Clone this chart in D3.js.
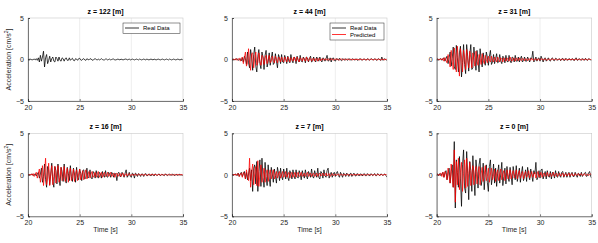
<!DOCTYPE html>
<html>
<head>
<meta charset="utf-8">
<script src="https://cdn.jsdelivr.net/npm/d3@7"></script>
<style>
  body { margin: 0; background: #fff; }
  svg { font-family: "Liberation Sans", Arial, sans-serif; }
</style>
</head>
<body>
<div id="chart"></div>
<script>
// time axis: 20 s to 35 s, 0.1 s step
const time = d3.range(151).map(i => 20 + i / 10);

const panelTitles = ["z = 122 [m]", "z = 44 [m]", "z = 31 [m]", "z = 16 [m]", "z = 7 [m]", "z = 0 [m]"];
const xTicks = [20, 25, 30, 35];
const yTicks = [-5, 0, 5];

// real data (black), one array per depth
const real122 = [
  0, 0, 0.05, 0, -0.05, 0, 0.05, -0.05, 0.1, -0.1,
  0.2, -0.3, 0.5, -0.2, 0.3, 1.0, -0.9, 0.2, 0.6, -0.5,
  -0.1, 0.4, -0.3, 0.1, 0.3, -0.2, -0.3, 0.3, 0.1, -0.2,
  0.3, -0.1, -0.2, 0.2, 0.1, -0.2, 0.1, 0.2, -0.1, -0.1,
  0.2, -0.1, 0.05, 0.15, -0.1, -0.15, 0.1, 0.05, -0.1, 0.1,
  0.15, -0.05, -0.1, 0.05, 0.1, -0.05, -0.1, 0.1, 0, -0.05,
  0.1, 0.05, -0.05, -0.1, 0.05, 0.1, 0, -0.05, 0.05, -0.05,
  0, 0.1, 0, -0.05, -0.05, 0.05, 0.05, -0.05, 0, 0.05,
  -0.05, 0, 0.05, 0.05, -0.05, -0.05, 0, 0.05, 0, -0.05,
  0.05, 0, -0.05, 0, 0.05, 0.05, -0.05, 0, 0.05, -0.05,
  0, 0.05, 0, -0.05, 0, 0.05, 0, -0.05, 0.05, 0,
  -0.05, 0, 0.05, 0, -0.05, 0.05, 0, -0.05, 0, 0.05,
  0, -0.05, 0.05, 0, -0.05, 0, 0.05, 0, -0.05, 0,
  0.05, 0, -0.05, 0, 0.05, 0, -0.05, 0.05, 0, -0.05,
  0, 0.05, 0, -0.05, 0, 0.05, 0, -0.05, 0, 0.05,
  -0.1
];
const real44 = [
  0, 0.05, 0, -0.05, 0.05, 0.1, -0.1, 0, 0.1, -0.15,
  0.2, -0.3, 0.4, 0.1, -0.6, 0.9, -0.4, -1.0, 1.2, 0.3,
  -1.3, 0.6, 1.5, -0.8, -1.5, 0.4, 1.2, -0.5, -1.1, 0.9,
  0.3, -1.2, 0.5, 1.1, -0.9, -0.3, 0.8, -0.7, 0.2, 0.9,
  -0.6, -0.4, 0.7, -0.2, -1.0, 0.6, 0.2, -0.5, 0.6, -0.3,
  -0.4, 0.5, 0.1, -0.5, 0.4, -0.2, -0.4, 0.6, -0.1, -0.4,
  0.3, 0.2, -0.5, 0.4, -0.1, -0.3, 0.5, -0.2, -0.3, 0.3,
  0.1, -0.4, 0.3, 0.2, -0.3, 0.1, 0.4, -0.3, -0.2, 0.3,
  -0.1, -0.3, 0.3, 0, -0.2, 0.3, -0.1, -0.3, 0.2, 0.1,
  -0.2, 0.1, 0.5, -0.2, -0.1, 0.2, -0.3, 0.1, 0.2, -0.1,
  -0.2, 0.1, 0.05, -0.1, 0.15, -0.05, -0.15, 0.1, 0.05, -0.1,
  0.1, 0, -0.1, 0.1, 0.05, -0.1, 0, 0.1, -0.05, -0.05,
  0.1, -0.05, -0.1, 0.05, 0.1, 0, -0.1, 0.05, 0.05, -0.05,
  -0.05, 0.1, 0, -0.1, 0.05, 0.1, -0.05, -0.05, 0.1, 0,
  -0.1, 0.05, 0.1, -0.05, -0.1, 0.3, -0.1, 0, 0.1, -0.05,
  -0.1
];
const real31 = [
  0, 0.05, -0.05, 0.05, 0.1, -0.1, 0.1, 0.2, -0.2, 0.1,
  0.4, -0.5, 0.2, 0.9, -0.8, 0.1, 1.5, -0.9, -1.2, 1.7,
  0.2, -1.5, 0.8, 1.6, -2.1, -0.4, 1.8, -0.6, -1.7, 1.8,
  0.4, -1.4, 0.6, 1.8, -1.2, -1.0, 1.5, 0.2, -1.3, 1.1,
  -0.2, -1.5, 1.3, 0.1, -0.9, 0.8, -0.2, -0.7, 0.9, 0.3,
  -0.7, 0.4, 1.1, -0.6, -0.3, 0.6, -0.5, 0.1, 0.7, -0.4,
  -0.3, 0.6, -0.2, -0.5, 0.4, 0.2, -0.4, 0.5, -0.2, -0.3,
  0.5, -0.1, -0.4, 0.3, 0.2, -0.3, 0.5, -0.2, -0.2, 0.3,
  -0.3, 0.1, 0.4, -0.3, -0.1, 0.3, -0.2, -0.2, 0.3, 0,
  -0.3, 0.2, 0.1, 1.0, -0.3, -0.1, 0.3, -0.2, 0.1, 0.2,
  -0.2, 0.4, 0.1, -0.3, 0.1, 0.2, -0.2, 0, 0.2, -0.1,
  -0.2, 0.1, 0.2, -0.1, -0.15, 0.15, 0.1, -0.1, 0, 0.1,
  -0.15, 0.05, 0.15, -0.1, -0.1, 0.15, 0, -0.1, 0.1, 0.05,
  -0.1, 0.1, 0.05, -0.15, 0.1, 0.2, -0.1, -0.05, 0.1, 0,
  -0.1, 0.1, 0.05, -0.1, 0.15, -0.05, -0.1, 0.1, 0.05, -0.05,
  -0.1
];
const real16 = [
  0, 0.05, -0.05, 0.05, 0.1, -0.1, 0.05, 0.1, -0.15, 0.1,
  0.3, -0.4, 0.1, 0.8, -0.9, -0.2, 1.3, -0.6, -1.5, 1.0,
  0.6, -1.2, 0.1, 1.4, -0.8, -1.5, 1.0, 0.5, -1.1, 1.3,
  -0.3, -1.3, 0.9, 0.4, -0.8, 1.3, -0.5, -1.0, 0.9, 0.2,
  -0.7, 1.1, -0.2, -0.8, 0.8, 0.1, -0.9, 0.9, -0.3, -0.6,
  0.7, 0.2, -0.7, 0.5, 0.6, -0.5, -0.3, 0.8, -0.4, -0.2,
  0.6, -0.3, -0.5, 0.4, 0.2, -0.4, 0.5, -0.1, -0.4, 0.3,
  0.1, -0.4, 0.4, -0.1, -0.3, 0.5, -0.2, -0.3, 0.3, 0.1,
  -0.3, 0.3, 0.1, -0.3, 0.2, 0.1, -0.7, 0.2, 0.3, -0.2,
  -0.2, 0.3, 0, -0.3, 0.2, 0.6, -0.3, -0.1, 0.3, -0.2,
  -0.3, 0.2, 0.1, -0.4, 0.2, 0.1, -0.2, 0.15, 0.05, -0.2,
  0.1, 0.1, -0.2, 0.05, 0.15, -0.1, -0.1, 0.1, 0.05, -0.15,
  0.1, 0.05, -0.15, 0.1, 0.05, -0.1, 0.05, 0.1, -0.1, -0.05,
  0.1, -0.05, -0.1, 0.1, 0.05, -0.1, 0, 0.1, -0.05, -0.05,
  0.1, 0, -0.1, 0.05, 0.05, -0.1, 0.05, 0.05, -0.05, 0,
  -0.1
];
const real7 = [
  0, 0.05, -0.05, 0.1, 0.05, -0.1, 0.2, -0.2, 0.1, 0.3,
  -0.2, 0.1, 0.4, -0.5, 0.3, -0.6, 0.1, 0.8, -0.7, 0.6,
  -2.0, 0.8, 1.2, -1.1, 1.6, -2.0, 0.4, 1.8, -1.4, 2.0,
  -0.3, -1.5, 1.5, -0.2, -1.3, 1.2, -0.4, -1.4, 0.9, 0.1,
  -0.9, 0.7, -0.1, -1.0, 0.9, 0.2, -0.7, 0.8, -0.2, -0.6,
  0.7, 0.1, -0.5, 0.8, -0.3, -0.7, 0.5, 0.1, -0.5, 0.6,
  -0.1, -0.5, 0.6, -0.2, -0.4, 0.5, 0.1, -0.6, 0.5, 0,
  -0.4, 0.6, -0.1, -0.5, 0.4, 0.1, -0.3, 0.7, -0.2, -0.4,
  0.5, 0, -0.3, 0.8, -0.3, -0.5, 0.4, 0.2, -0.4, 0.6,
  -0.1, -0.3, 0.5, 0.8, -0.4, 0, 0.3, -0.3, 0.1, 0.3,
  -0.2, 0.2, 0.4, -0.1, -0.3, 0.3, 0, -0.3, 0.2, 0.1,
  -0.2, 0.2, 0.05, -0.2, 0.1, 0.2, -0.2, 0, 0.2, -0.1,
  -0.15, 0.15, 0.05, -0.15, 0.1, 0.1, -0.15, 0.05, 0.15, -0.1,
  -0.1, 0.15, 0, -0.15, 0.1, 0.1, -0.1, 0, 0.15, -0.1,
  -0.1, 0.15, 0, -0.1, 0.1, 0.05, -0.1, 0.05, 0.1, -0.1,
  -0.3
];
const real0 = [
  0, 0.1, -0.1, 0.15, -0.1, 0.1, 0.3, -0.3, 0.2, 0.5,
  -0.6, 0.2, 0.8, -1.0, 0.4, 1.2, -1.5, 4.0, -4.0, 1.8,
  0.3, -1.5, 2.2, -0.5, -3.8, 1.2, 3.0, -1.6, -2.2, 2.8,
  0.2, -3.0, 1.6, 0.5, -2.0, 2.3, -0.3, -2.5, 1.8, 0.4,
  -1.6, 1.2, 2.0, -1.3, -0.6, 1.4, -1.8, 0.3, 1.2, -0.9,
  -2.0, 1.0, 1.8, -1.2, -0.2, 1.3, -1.0, 0.8, -1.4, 0.2,
  1.2, -1.0, 0.1, 1.5, -1.3, -0.2, 0.8, -1.1, 1.0, -0.2,
  -0.8, 0.9, -0.1, -1.2, 1.0, 0.1, -0.6, 1.1, -0.8, 0,
  0.8, -0.9, 0.2, 1.0, -0.7, -0.2, 0.6, -0.8, 0.9, -0.1,
  -0.6, 0.7, 0, -0.8, 0.5, 0.1, 1.5, -0.6, -0.3, 0.5,
  -0.4, 0.6, 0.7, -0.5, 0, 0.4, -0.5, 0.5, -0.1, -0.3,
  0.4, -0.5, 0.3, 0.1, -0.4, 0.5, -0.2, -0.3, 0.4, -0.1,
  -0.3, 0.3, 0.4, -0.3, 0, 0.3, -0.3, 0.1, 0.3, -0.3,
  0.1, 0.3, -0.2, -0.2, 0.3, 0, -0.3, 0.2, 0.1, -0.2,
  0.3, -0.2, 0, 0.2, 0.3, -0.2, -0.1, 0.2, 0.4, -0.2,
  -0.4
];

// predicted (red), none for z = 122
const pred44 = [
  0, 0.05, -0.05, 0.05, 0.1, -0.1, 0.05, 0.15, -0.2, 0.1,
  0.3, -0.5, 0.2, 0.9, -0.8, -0.4, 1.3, -0.3, -1.3, 0.7,
  0.8, -1.0, 0.2, 0.9, -0.7, -0.4, 0.8, -0.2, -0.7, 0.5,
  0.3, -0.6, 0.2, 0.5, -0.5, 0, 0.5, -0.4, -0.2, 0.4,
  -0.1, -0.4, 0.4, 0.1, -0.4, 0.3, 0.1, -0.3, 0.3, 0,
  -0.3, 0.3, 0, -0.3, 0.3, 0.1, -0.3, 0.2, 0.1, -0.2,
  0.3, -0.1, -0.2, 0.3, 0, -0.3, 0.2, 0.1, -0.2, 0.2,
  0, -0.2, 0.3, -0.1, -0.2, 0.2, 0.1, -0.2, 0.1, 0.1,
  -0.2, 0.1, 0.1, -0.2, 0.15, 0.05, -0.15, 0.1, 0.05, -0.1,
  0.1, 0.05, -0.1, 0.1, 0, -0.1, 0.1, 0.05, -0.1, 0.05,
  0.05, -0.05, 0.1, -0.05, -0.05, 0.05, 0.05, -0.05, 0, 0.05,
  -0.05, 0, 0.05, 0, -0.05, 0.05, 0, -0.05, 0.05, 0,
  -0.05, 0.05, 0, -0.05, 0, 0.05, -0.05, 0, 0.05, 0,
  -0.05, 0, 0.05, -0.05, 0, 0.05, 0, -0.05, 0, 0.05,
  0, -0.05, 0.05, 0, -0.05, 0, 0.05, 0, -0.05, 0.05,
  0
];
const pred31 = [
  0, 0.05, 0, -0.05, 0.1, -0.05, 0.15, -0.2, 0.25, -0.1,
  -0.4, 0.6, 0, -0.9, 1.1, -0.2, -1.2, 1.4, 0.1, -1.5,
  1.6, -0.2, -2.0, 1.3, 0.3, -1.5, 1.1, 0.2, -1.2, 1.2,
  -0.1, -1.0, 1.0, 0.2, -1.0, 0.8, 0.1, -0.8, 1.0, -0.2,
  -0.7, 0.6, 0.1, -0.6, 0.7, -0.1, -0.5, 0.5, 0, -0.4,
  0.4, -0.1, -0.3, 0.4, -0.1, -0.3, 0.3, 0, -0.3, 0.3,
  0, -0.3, 0.2, 0.1, -0.3, 0.2, 0, -0.2, 0.2, 0,
  -0.2, 0.3, -0.1, -0.2, 0.2, 0.05, -0.2, 0.2, 0, -0.15,
  0.2, -0.05, -0.15, 0.15, 0.05, -0.15, 0.1, 0.05, -0.15, 0.1,
  0.05, -0.1, 0.15, -0.05, -0.1, 0.1, 0.05, -0.1, 0.1, 0,
  -0.1, 0.05, 0.1, -0.05, -0.05, 0.1, 0, -0.1, 0.05, 0.05,
  -0.05, 0, 0.1, -0.05, 0, 0.05, -0.05, 0, 0.05, 0,
  -0.05, 0.05, 0, -0.05, 0.05, 0, -0.05, 0, 0.05, -0.05,
  0, 0.05, 0, -0.05, 0, 0.05, -0.05, 0.05, 0, -0.05,
  0.05, 0, -0.05, 0, 0.05, 0, -0.05, 0.05, 0, 0,
  0
];
const pred16 = [
  0, 0.05, -0.05, 0.1, -0.05, 0.15, -0.2, 0.1, 0.3, -0.4,
  0.2, 0.7, -0.9, -0.1, 1.1, -1.3, 0.3, 2.0, -1.2, -0.4,
  1.4, -1.3, 0.1, 1.1, -1.2, -0.2, 1.0, -1.0, 0.1, 1.1,
  -0.9, -0.3, 0.9, -0.7, -0.3, 1.0, -0.8, 0.1, 0.8, -0.9,
  0.2, 0.8, -0.7, -0.1, 0.7, -0.8, 0.2, 0.6, -0.7, 0.1,
  0.7, -0.6, 0, 0.5, -0.6, 0.1, 0.6, -0.5, 0, 0.4,
  -0.4, 0.1, 0.4, -0.3, -0.1, 0.3, -0.3, 0.1, 0.4, -0.3,
  0, 0.3, -0.3, 0.1, 0.3, -0.2, -0.1, 0.3, -0.2, 0,
  0.3, -0.2, -0.1, 0.2, -0.3, 0.1, 0.2, -0.2, 0, 0.2,
  -0.2, 0.1, 0.2, -0.2, 0, 0.15, -0.15, 0.05, 0.15, -0.1,
  -0.05, 0.1, -0.1, 0.05, 0.1, -0.1, 0, 0.1, -0.05, -0.05,
  0.1, -0.05, -0.05, 0.1, 0, -0.1, 0.05, 0.05, -0.1, 0.05,
  0.05, -0.05, 0, 0.1, -0.05, -0.05, 0.05, 0, -0.05, 0.05,
  0, -0.05, 0.05, 0.05, -0.05, 0, 0.05, -0.05, 0, 0.05,
  -0.05, 0, 0.05, -0.05, 0, 0.05, 0, -0.05, 0.05, 0,
  0
];
const pred7 = [
  0, 0.05, -0.05, 0.1, -0.1, 0.1, 0.15, -0.2, 0.1, 0.2,
  -0.3, 0.3, 0.2, -0.5, 0.6, -0.2, -0.7, 2.0, -1.5, 0.3,
  1.3, -1.2, 0.2, 1.0, -1.3, 1.7, -1.4, 0.1, 1.2, -0.9,
  -0.2, 0.8, -0.9, 0.2, 0.6, -0.8, 0, 0.6, -0.5, 0.1,
  0.6, -0.5, -0.1, 0.4, -0.4, 0.1, 0.4, -0.4, 0, 0.4,
  -0.3, -0.1, 0.4, -0.3, 0, 0.3, -0.4, 0.1, 0.3, -0.3,
  0, 0.3, -0.3, 0.1, 0.3, -0.2, -0.1, 0.3, -0.2, 0,
  0.2, -0.2, 0.1, 0.3, -0.2, 0, 0.2, -0.2, 0.1, 0.2,
  -0.2, 0, 0.2, -0.2, 0.05, 0.2, -0.15, 0, 0.2, -0.15,
  0, 0.2, -0.15, 0.05, 0.15, -0.2, 0, 0.15, -0.1, 0,
  0.1, -0.1, 0.05, 0.1, -0.1, 0, 0.1, -0.05, -0.05, 0.1,
  -0.05, -0.05, 0.1, 0, -0.1, 0.05, 0.05, -0.05, 0, 0.05,
  0, -0.05, 0.05, 0.05, -0.05, 0, 0.05, -0.05, 0, 0.05,
  -0.05, 0, 0.05, 0, -0.05, 0.05, 0, -0.05, 0.05, 0,
  -0.05, 0.05, 0, -0.05, 0, 0.05, -0.05, 0, 0.05, 0,
  0
];
const pred0 = [
  0, 0.1, -0.1, 0.1, 0.2, -0.2, 0.3, -0.3, 0.4, 0.1,
  -0.6, 0.8, -0.2, -1.0, 1.3, -0.3, -1.5, 3.0, -3.3, 1.6,
  -1.2, 2.0, -1.8, 0.3, 1.5, -2.0, 0.2, 1.8, -1.6, 2.0,
  -1.4, 0.2, 1.5, -1.3, 0.1, 1.1, -1.2, 0.3, 1.0, -1.1,
  0.2, 1.0, -1.2, 0.1, 0.9, -0.8, 0, 1.1, -0.7, -0.2,
  0.8, -0.9, 0.1, 0.8, -0.6, 0, 0.7, -0.8, 0.2, 0.6,
  -0.7, 0.1, 0.7, -0.6, 0.1, 0.5, -0.7, 0.1, 0.6, -0.5,
  0, 0.6, -0.5, 0.1, 0.5, -0.4, 0, 0.6, -0.5, 0.1,
  0.5, -0.4, 0, 0.4, -0.5, 0.1, 0.4, -0.3, 0, 0.5,
  -0.4, 0, 0.4, -0.3, 0.1, 0.3, -0.4, 0, 0.4, -0.3,
  0, 0.3, -0.3, 0.1, 0.2, -0.2, 0, 0.3, -0.2, 0,
  0.2, -0.2, 0, 0.3, -0.2, 0.05, 0.2, -0.2, 0, 0.2,
  -0.15, 0, 0.2, -0.2, 0.05, 0.15, -0.15, 0, 0.2, -0.15,
  0.05, 0.15, -0.15, 0, 0.15, -0.1, 0, 0.15, -0.1, 0,
  0.15, -0.1, 0, 0.15, -0.1, 0, 0.1, -0.1, 0.05, 0.1,
  0
];

const realSeries = [real122, real44, real31, real16, real7, real0];
const predSeries = [null, pred44, pred31, pred16, pred7, pred0];

const W = 598, H = 243;
const svg = d3.select("#chart").append("svg")
    .attr("width", W)
    .attr("height", H);

// panel geometry (MATLAB subplot layout)
const colX = [28, 232, 436.7];
const rowY = [18, 133.3];
const pw = 155, ph = 83;

const line = (xs, ys) => d3.line()
    .x((d, i) => xs(time[i]))
    .y(d => ys(d));

panelTitles.forEach((title, k) => {
    const col = k % 3, row = Math.floor(k / 3);
    const g = svg.append("g")
        .attr("transform", `translate(${colX[col]},${rowY[row]})`);

    const x = d3.scaleLinear().domain([20, 35]).range([0, pw]);
    const y = d3.scaleLinear().domain([-5, 5]).range([ph, 0]);

    // grid on x
    g.selectAll(".grid")
        .data(xTicks.slice(1, -1))
        .enter().append("line")
        .attr("x1", d => x(d)).attr("x2", d => x(d))
        .attr("y1", 0).attr("y2", ph)
        .attr("stroke", "#e3e3e3")
        .attr("stroke-width", 0.6);

    const clipId = "clip" + k;
    g.append("clipPath").attr("id", clipId)
        .append("rect").attr("width", pw).attr("height", ph);

    const pl = g.append("g").attr("clip-path", `url(#${clipId})`);
    pl.append("path")
        .datum(realSeries[k])
        .attr("d", line(x, y))
        .attr("fill", "none")
        .attr("stroke", "#000")
        .attr("stroke-width", 0.75);
    if (predSeries[k]) {
        pl.append("path")
            .datum(predSeries[k])
            .attr("d", line(x, y))
            .attr("fill", "none")
            .attr("stroke", "#ff0000")
            .attr("stroke-width", 0.75);
    }

    // box
    g.append("rect")
        .attr("width", pw).attr("height", ph)
        .attr("fill", "none")
        .attr("stroke", "#c8c8c8")
        .attr("stroke-width", 0.6);

    // axes, ticks inward like MATLAB
    const xAxis = g.append("g")
        .attr("transform", `translate(0,${ph})`)
        .call(d3.axisBottom(x).tickValues(xTicks).tickSize(-2).tickPadding(4));
    const yAxis = g.append("g")
        .call(d3.axisLeft(y).tickValues(yTicks).tickSize(-2).tickPadding(4));
    [xAxis, yAxis].forEach(a => {
        a.select(".domain").attr("stroke", "#262626").attr("stroke-width", 0.6);
        a.selectAll(".tick line").attr("stroke", "#262626").attr("stroke-width", 0.6);
        a.selectAll("text").attr("fill", "#262626").style("font-size", "7px");
    });

    g.append("text")
        .attr("x", pw / 2).attr("y", -4)
        .attr("text-anchor", "middle")
        .attr("font-weight", "bold")
        .style("font-size", "7px")
        .text(title);

    if (row === 1) {
        g.append("text")
            .attr("x", pw / 2).attr("y", ph + 16)
            .attr("text-anchor", "middle")
            .attr("fill", "#262626")
            .style("font-size", "7px")
            .text("Time [s]");
    }
    if (col === 0) {
        const yl = g.append("text")
            .attr("transform", `translate(-17,${ph / 2}) rotate(-90)`)
            .attr("text-anchor", "middle")
            .attr("fill", "#262626")
            .style("font-size", "7px");
        yl.append("tspan").text("Acceleration [cm/s");
        yl.append("tspan").attr("baseline-shift", "super").style("font-size", "5px").text("2");
        yl.append("tspan").text("]");
    }

    // legends (only the first two panels have one)
    if (k <= 1) {
        const entries = predSeries[k] ? [["Real Data", "#000"], ["Predicted", "#ff0000"]] : [["Real Data", "#000"]];
        const lw = k === 0 ? 57 : 54;
        const lg = g.append("g").attr("transform", `translate(${pw - lw - 3},5)`);
        lg.append("rect")
            .attr("width", lw).attr("height", 4 + entries.length * 6.5)
            .attr("fill", "#fff")
            .attr("stroke", "#262626")
            .attr("stroke-width", 0.5);
        entries.forEach((e, i) => {
            lg.append("line")
                .attr("x1", 2).attr("x2", 16)
                .attr("y1", 5 + i * 6.5).attr("y2", 5 + i * 6.5)
                .attr("stroke", e[1]).attr("stroke-width", 0.8);
            lg.append("text")
                .attr("x", 20).attr("y", 7 + i * 6.5)
                .style("font-size", "6px")
                .text(e[0]);
        });
    }
});
</script>
</body>
</html>
